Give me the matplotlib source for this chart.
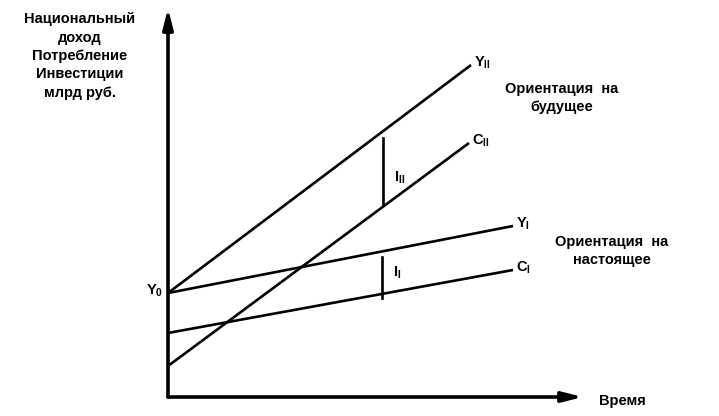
import matplotlib.pyplot as plt

plt.rcParams['font.family'] = ['Liberation Sans', 'DejaVu Sans']
plt.rcParams['mathtext.fontset'] = 'custom'
plt.rcParams['mathtext.rm'] = 'Liberation Sans:bold'
plt.rcParams['mathtext.bf'] = 'Liberation Sans:bold'

# Линии: начало и конец (время, величина)
line_labels = [r'Y$_{\mathrm{II}}$', r'C$_{\mathrm{II}}$', r'Y$_{\mathrm{I}}$', r'C$_{\mathrm{I}}$']
x_start = [0, 0, 0, 0]
x_end = [303, 301, 345, 345]
y_start = [104, 31, 104, 64]
y_end = [332, 254, 171, 127]

# Инвестиции (вертикальные отрезки)
inv_labels = [r'I$_{\mathrm{II}}$', r'I$_{\mathrm{I}}$']
inv_x = [215, 214]
inv_top = [259, 140]
inv_bottom = [192, 99]

W, H = 719, 416
fig = plt.figure(figsize=(W / 100, H / 100), dpi=100)
ox, oy = 168, 397          # начало координат в пикселях
x_max, y_max = 415, 389
ax = fig.add_axes([ox / W, (H - oy) / H, x_max / W, y_max / H])
ax.set_xlim(0, x_max)
ax.set_ylim(0, y_max)
ax.axis('off')

# Оси со стрелками
arrow = dict(arrowstyle='-|>,head_width=0.3,head_length=1.2', color='black', lw=2.6,
             shrinkA=0, shrinkB=0)
ax.annotate('', xy=(0, y_max), xytext=(0, 0), arrowprops=arrow, annotation_clip=False)
ax.annotate('', xy=(x_max, 0), xytext=(0, 0), arrowprops=arrow, annotation_clip=False)

for xs, xe, ys, ye in zip(x_start, x_end, y_start, y_end):
    ax.plot([xs, xe], [ys, ye], color='black', lw=1.9, solid_capstyle='butt', clip_on=False)

for x, t, b in zip(inv_x, inv_top, inv_bottom):
    ax.plot([x, x], [b, t], color='black', lw=1.9, clip_on=False)

fs = 10.5
kw = dict(fontsize=fs, fontweight='bold', color='black')

# Подписи линий
for lab, xe, ye in zip(line_labels, x_end, y_end):
    ax.text(xe + 3, ye + 2, lab, ha='left', va='center', **kw)
for lab, x, t, b, dy in zip(inv_labels, inv_x, inv_top, inv_bottom, [-6, 5]):
    ax.text(x + 11, (t + b) / 2 + dy, lab, ha='left', va='center', **kw)
ax.text(-5, y_start[0] + 2, r'Y$_{\mathrm{0}}$', ha='right', va='center', **kw)

# Подписи осей и блоков
fig.text(80 / W, 1 - 56 / H, 'Национальный\nдоход\nПотребление\nИнвестиции\nмлрд руб.',
         ha='center', va='center', linespacing=1.4, **kw)
fig.text(622 / W, 1 - 401 / H, 'Время', ha='center', va='center', **kw)
fig.text(562 / W, 1 - 98 / H, 'Ориентация  на\nбудущее', ha='center', va='center',
         linespacing=1.45, **kw)
fig.text(612 / W, 1 - 251 / H, 'Ориентация  на\nнастоящее', ha='center', va='center',
         linespacing=1.3, **kw)

fig.savefig('out.png', dpi=100)
